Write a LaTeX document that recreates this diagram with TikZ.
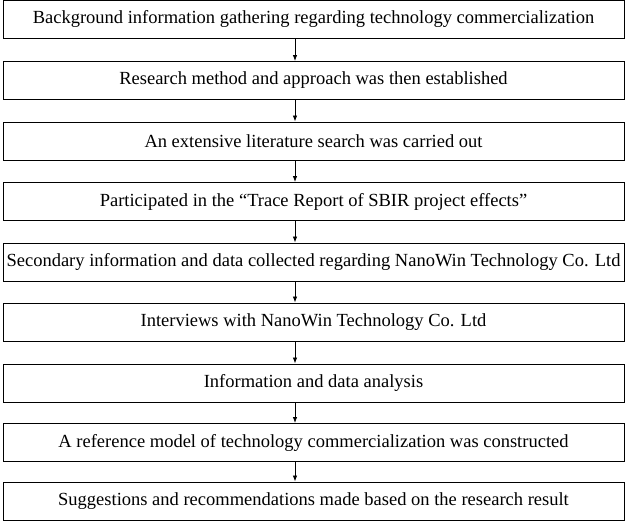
\documentclass[tikz,border=0pt]{standalone}
\usepackage{fontspec}
\setmainfont{Liberation Serif}
\usetikzlibrary{arrows.meta}
\begin{document}
\begin{tikzpicture}[x=1pt,y=1pt,
  stepbox/.style={draw, line width=0.9pt, minimum width=621pt, minimum height=38pt, inner sep=0pt, font=\fontsize{18.5}{20}\selectfont},
  flow/.style={line width=0.8pt, -{Latex[length=6pt,width=4.5pt]}}]
\useasboundingbox (0,0) rectangle (630,525);
\node[stepbox] (b1) at (313.5,{525-19}) {Background information gathering regarding technology commercialization};
\node[stepbox] (b2) at (313.5,{525-80.5}) {Research method and approach was then established};
\node[stepbox] (b3) at (313.5,{525-141}) {An extensive literature search was carried out};
\node[stepbox] (b4) at (313.5,{525-201.5}) {Participated in the “Trace Report of SBIR project effects”};
\node[stepbox] (b5) at (313.5,{525-262}) {Secondary information and data collected regarding NanoWin Technology Co. Ltd};
\node[stepbox] (b6) at (313.5,{525-322}) {Interviews with NanoWin Technology Co. Ltd};
\node[stepbox] (b7) at (313.5,{525-383}) {Information and data analysis};
\node[stepbox] (b8) at (313.5,{525-442.5}) {A reference model of technology commercialization was constructed};
\node[stepbox] (b9) at (313.5,{525-501}) {Suggestions and recommendations made based on the research result};
\coordinate (ax) at (295,0);
\foreach \a/\b in {b1/b2,b2/b3,b3/b4,b4/b5,b5/b6,b6/b7,b7/b8,b8/b9}
  \draw[flow] (\a.south -| ax) -- (\b.north -| ax);
\end{tikzpicture}
\end{document}
